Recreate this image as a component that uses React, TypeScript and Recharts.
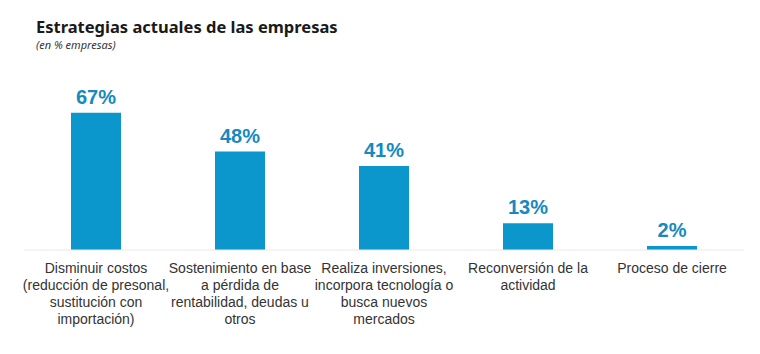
import { BarChart, Bar, XAxis, YAxis, LabelList } from 'recharts';

const categories = [
  ['Disminuir costos', '(reducción de presonal,', 'sustitución con', 'importación)'],
  ['Sostenimiento en base', 'a pérdida de', 'rentabilidad, deudas u', 'otros'],
  ['Realiza inversiones,', 'incorpora tecnología o', 'busca nuevos', 'mercados'],
  ['Reconversión de la', 'actividad'],
  ['Proceso de cierre'],
];
const values = [67, 48, 41, 13, 2];

const data = categories.map((lines, i) => ({ name: String(i), lines, value: values[i] }));

const BAR = '#0b96cc';
const LABEL = '#1689c0';

const CategoryTick = (props: any) => {
  const { x, y, payload } = props;
  const lines: string[] = categories[Number(payload.value)];
  return (
    <g transform={`translate(${x},${y})`}>
      {lines.map((line, i) => (
        <text
          key={i}
          x={0}
          y={15 + i * 17}
          textAnchor="middle"
          fill="#333"
          fontSize={14}
          fontFamily="'Liberation Sans', Arial, sans-serif"
        >
          {line}
        </text>
      ))}
    </g>
  );
};

export default function App() {
  return (
    <div style={{ position: 'absolute', left: 0, top: 0, width: 760, height: 354, background: '#fff' }}>
      <div
        style={{
          position: 'absolute',
          left: 36,
          top: 17,
          lineHeight: '20px',
          fontFamily: "'Noto Sans', sans-serif",
          fontWeight: 700,
          fontSize: 16.5,
          color: '#1a1a1a',
          whiteSpace: 'nowrap',
        }}
      >
        Estrategias actuales de las empresas
      </div>
      <div
        style={{
          position: 'absolute',
          left: 36,
          top: 38,
          lineHeight: '14px',
          fontFamily: "'Noto Sans', sans-serif",
          fontStyle: 'italic',
          fontSize: 11,
          color: '#333',
        }}
      >
        (en % empresas)
      </div>
      <BarChart
        width={760}
        height={354}
        data={data}
        margin={{ top: 86, right: 16, left: 24, bottom: 0 }}
      >
        <XAxis
          dataKey="name"
          height={104}
          interval={0}
          tickLine={false}
          axisLine={{ stroke: '#e8e8e8' }}
          tick={<CategoryTick />}
        />
        <YAxis hide domain={[0, 80]} />
        <Bar dataKey="value" fill={BAR} barSize={50} isAnimationActive={false}>
          <LabelList
            dataKey="value"
            position="top"
            offset={9}
            formatter={(v: any) => `${v}%`}
            fill={LABEL}
            fontSize={20}
            fontWeight={700}
            fontFamily="'Liberation Sans', Arial, sans-serif"
          />
        </Bar>
      </BarChart>
    </div>
  );
}
